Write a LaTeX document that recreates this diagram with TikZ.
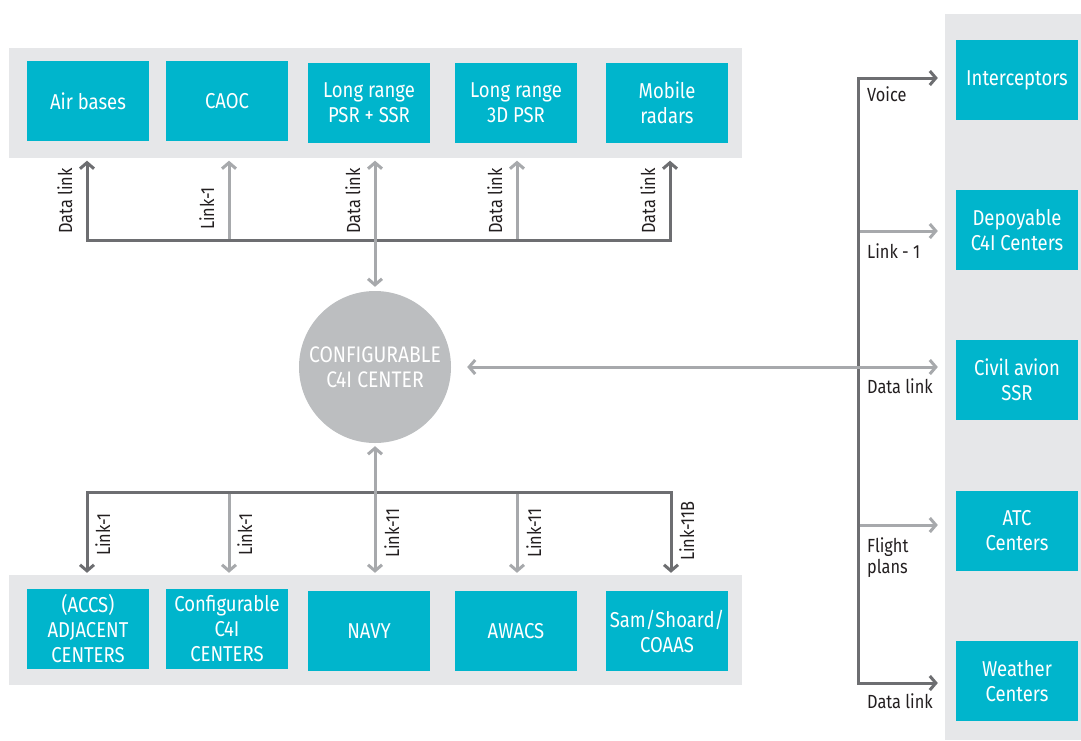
\documentclass[tikz,border=0pt]{standalone}
\usepackage{fontspec}
\setmainfont{Fira Sans}[FakeStretch=0.86]
\usetikzlibrary{arrows.meta}
\definecolor{teal}{RGB}{0,181,204}
\definecolor{panelgray}{RGB}{230,231,233}
\definecolor{circgray}{RGB}{188,190,192}
\definecolor{dkline}{RGB}{109,110,113}
\definecolor{ltline}{RGB}{167,169,172}
\definecolor{lbltext}{RGB}{35,31,32}
\begin{document}
\begin{tikzpicture}[x=1pt,y=-1pt,
  panel/.style={fill=panelgray, draw=none, inner sep=0pt},
  box/.style={fill=teal, text=white, inner sep=0pt, minimum width=122pt, minimum height=80pt, align=center, font=\fontsize{21.5}{25}\selectfont},
  lbl/.style={text=lbltext, inner sep=0pt, font=\fontsize{19}{21}\selectfont, align=left},
  vlbl/.style={lbl, rotate=90, anchor=base west},
  conn/.style={line width=3pt, arrows={-Straight Barb[length=6pt,width=14pt]}},
  dk/.style={conn, draw=dkline},
  lt/.style={conn, draw=ltline},
  both/.style={arrows={Straight Barb[length=6pt,width=14pt]-Straight Barb[length=6pt,width=14pt]}},
]
\useasboundingbox (0,0) rectangle (1081,740);
% panels
\node[panel, minimum width=733pt, minimum height=110pt] (tp) at (375.5,102.5) {};
\node[panel, minimum width=733pt, minimum height=110pt] (bp) at (375.5,630) {};
\node[panel, minimum width=136pt, minimum height=726pt] (rp) at (1013,377) {};
% top boxes
\node[box] (air) at (88,101) {Air bases};
\node[box] (caoc) at (227,101) {CAOC};
\node[box] (psr) at (369,103) {Long range\\PSR + SSR};
\node[box] (dpsr) at (516,103) {Long range\\3D PSR};
\node[box] (mob) at (667,103) {Mobile\\radars};
% bottom boxes
\node[box] (accs) at (88,629) {(ACCS)\\ADJACENT\\CENTERS};
\node[box] (cfg) at (227,629) {Configurable\\C4I\\CENTERS};
\node[box] (navy) at (369,631) {NAVY};
\node[box] (awacs) at (516,631) {AWACS};
\node[box] (sam) at (667,631) {Sam/Shoard/\\COAAS};
% right boxes
\node[box] (int) at (1017,80) {Interceptors};
\node[box] (dep) at (1017,230) {Depoyable\\C4I Centers};
\node[box] (civ) at (1017,380) {Civil avion\\SSR};
\node[box] (atc) at (1017,531) {ATC\\Centers};
\node[box] (wea) at (1017,681) {Weather\\Centers};
% circle
\node[circle, fill=circgray, text=white, minimum size=152pt, inner sep=0pt, align=center, font=\fontsize{22.5}{25}\selectfont] (c) at (375,367) {CONFIGURABLE\\C4I CENTER};
% top bus
\coordinate (ta) at (87,240);
\coordinate (tb) at (229,240);
\coordinate (tc) at (375,240);
\coordinate (td) at (517,240);
\coordinate (te) at (670,240);
\draw[lt] (tb) -- ([yshift=-3pt]tp.south -| tb);
\draw[lt] (td) -- ([yshift=-3pt]tp.south -| td);
\draw[dk, both] ([yshift=-3pt]tp.south -| ta) -- (ta) -- (te) -- ([yshift=-3pt]tp.south -| te);
\draw[lt, both] ([yshift=-3pt]tp.south -| tc) -- ([yshift=4pt]c.north);
% bottom bus
\coordinate (ba) at (87,492);
\coordinate (bb) at (229,492);
\coordinate (bc) at (375,492);
\coordinate (bd) at (517,492);
\coordinate (be) at (671,492);
\draw[lt] (bb) -- ([yshift=2pt]bp.north -| bb);
\draw[lt] (bd) -- ([yshift=2pt]bp.north -| bd);
\draw[dk, both] ([yshift=2pt]bp.north -| ba) -- (ba) -- (be) -- ([yshift=2pt]bp.north -| be);
\draw[lt, both] ([yshift=-3pt]c.south) -- ([yshift=2pt]bp.north -| bc);
% right bus
\coordinate (v1) at (858,78);
\coordinate (v2) at (858,231);
\coordinate (v3) at (858,367);
\coordinate (v4) at (858,525);
\coordinate (v5) at (858,683);
\draw[lt] (v2) -- ([xshift=-7pt]v2 -| rp.west);
\draw[lt] (v4) -- ([xshift=-7pt]v4 -| rp.west);
\draw[dk, both] ([xshift=-7pt]v1 -| rp.west) -- (v1) -- (v5) -- ([xshift=-7pt]v5 -| rp.west);
\draw[lt, both] ([xshift=16pt]c.east) -- ([xshift=-7pt]v3 -| rp.west);
% top labels
\node[vlbl] (l1) at (72,234) {Data link};
\node[vlbl] (l2) at (214,230) {Link-1};
\node[vlbl] (l3) at (360,234) {Data link};
\node[vlbl] (l4) at (502,234) {Data link};
\node[vlbl] (l5) at (655,234) {Data link};
% bottom labels
\node[vlbl] (m1) at (110,556) {Link-1};
\node[vlbl] (m2) at (252,556) {Link-1};
\node[vlbl] (m3) at (399,558) {Link-11};
\node[vlbl] (m4) at (541,558) {Link-11};
\node[vlbl] (m5) at (694,561) {Link-11B};
% right labels
\node[lbl, anchor=base west] (r1) at (867,101) {Voice};
\node[lbl, anchor=base west] (r2) at (867,258) {Link - 1};
\node[lbl, anchor=base west] (r3) at (867,393) {Data link};
\node[lbl, anchor=base west] (r4) at (867,573) {Flight\\plans};
\node[lbl, anchor=base west] (r5) at (867,708) {Data link};
\end{tikzpicture}
\end{document}
